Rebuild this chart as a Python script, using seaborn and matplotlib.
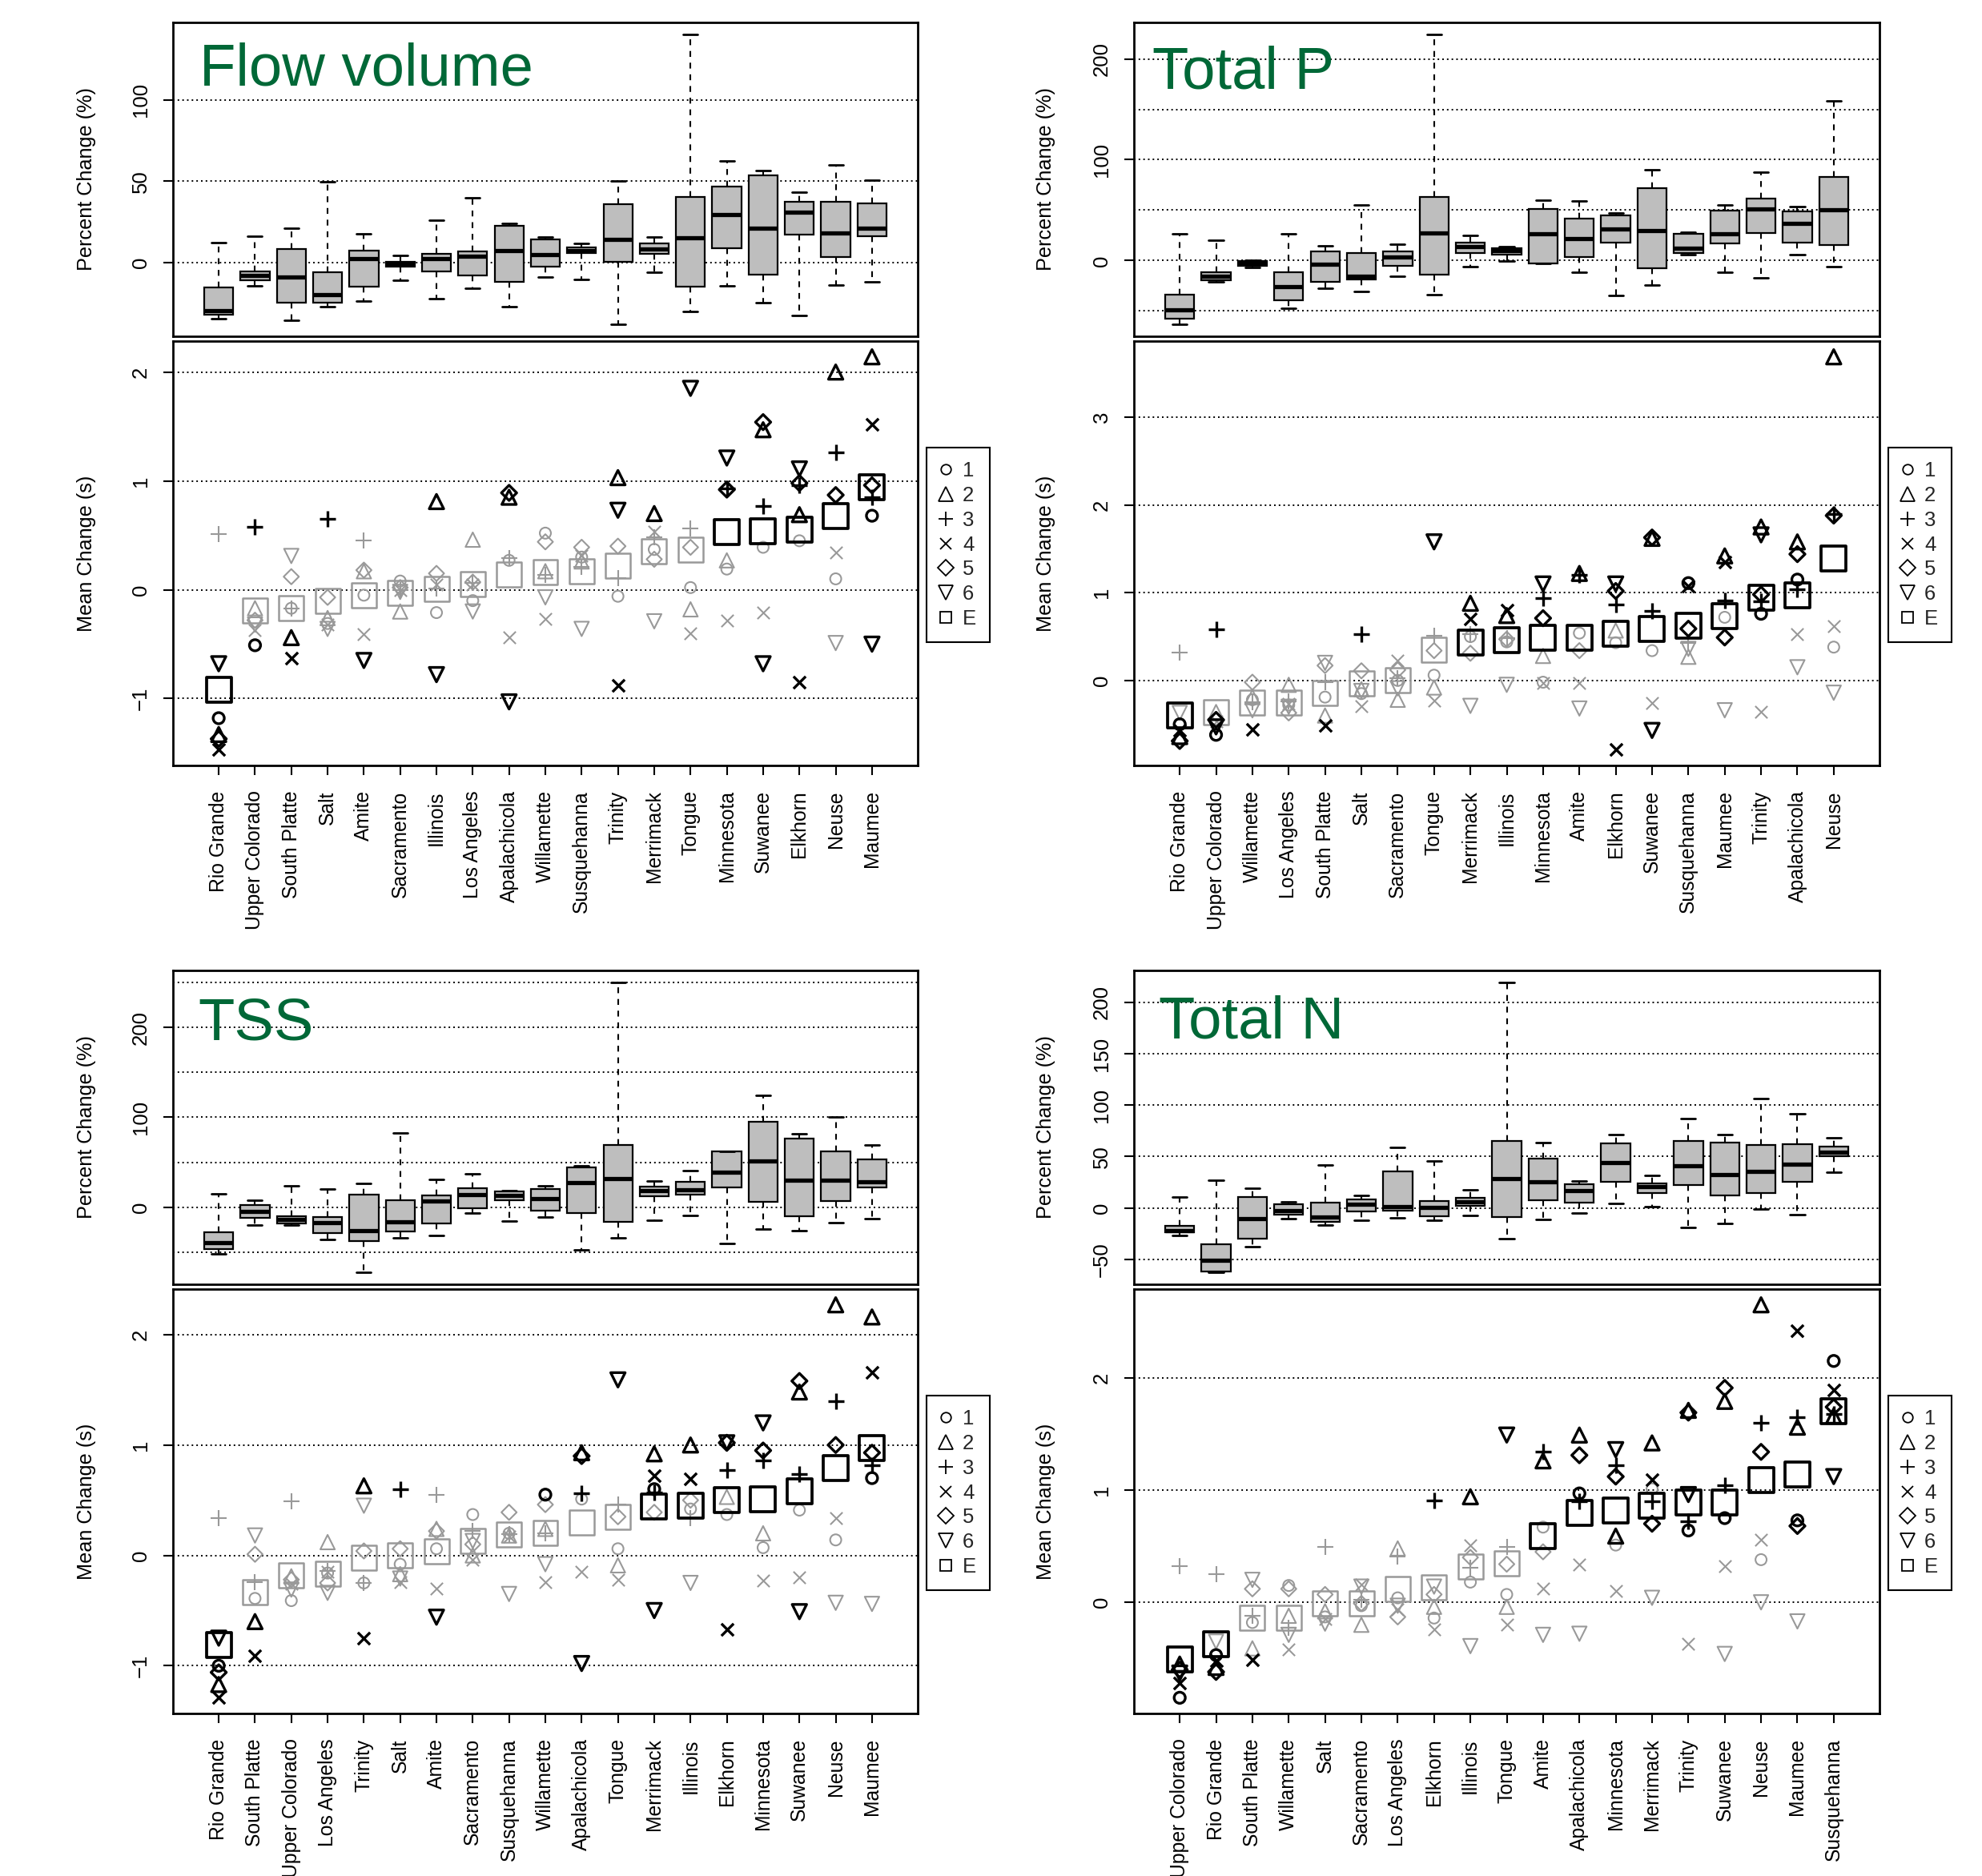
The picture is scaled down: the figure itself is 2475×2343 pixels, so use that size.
import numpy as np
import pandas as pd
import matplotlib
matplotlib.use("Agg")
import matplotlib.pyplot as plt
from matplotlib.lines import Line2D
import seaborn as sns

# ---------------------------------------------------------------- data
# ---- Flow volume
FLOW_SITES = ["Rio Grande", "Upper Colorado", "South Platte", "Salt", "Amite", "Sacramento",
              "Illinois", "Los Angeles", "Apalachicola", "Willamette", "Susquehanna", "Trinity",
              "Merrimack", "Tongue", "Minnesota", "Suwanee", "Elkhorn", "Neuse", "Maumee"]
FLOW_LO = [-34.5, -14.4, -35.6, -27.4, -23.6, -11.0, -22.3, -15.8, -27.4, -8.9, -10.3, -38.3, -6.2, -30.4, -14.4, -25.0, -32.5, -13.8, -11.8]
FLOW_Q1 = [-32.0, -11.0, -25.0, -25.0, -14.8, -2.5, -5.6, -7.9, -11.8, -2.8, 5.7, 0.3, 5.4, -14.8, 9.0, -7.4, 16.9, 3.3, 16.1]
FLOW_MED = [-29.9, -8.2, -9.0, -19.7, 2.3, -1.1, 2.3, 3.6, 7.4, 4.9, 7.4, 14.0, 8.5, 15.1, 29.7, 21.2, 31.0, 18.1, 21.2]
FLOW_Q3 = [-15.6, -5.3, 8.5, -5.9, 7.4, 0.2, 5.4, 6.7, 22.5, 14.0, 9.4, 36.0, 11.5, 40.4, 46.8, 53.4, 37.3, 37.3, 36.3]
FLOW_HI = [12.2, 16.4, 21.3, 49.6, 17.4, 4.4, 25.8, 39.7, 23.8, 15.9, 11.5, 50.2, 15.8, 140.6, 62.6, 56.7, 43.2, 59.8, 50.7]
FLOW_S1 = [-1.18, -0.51, -0.17, -0.31, -0.05, 0.08, -0.21, -0.10, 0.27, 0.52, 0.30, -0.06, 0.37, 0.02, 0.19, 0.39, 0.45, 0.10, 0.68]
FLOW_S2 = [-1.33, -0.17, -0.44, -0.26, 0.17, -0.20, 0.81, 0.46, 0.85, 0.17, 0.26, 1.03, 0.70, -0.18, 0.27, 1.47, 0.69, 2.00, 2.14]
FLOW_S3 = [0.51, 0.58, -0.17, 0.65, 0.45, 0.00, 0.01, 0.06, 0.29, 0.14, 0.21, 0.11, 0.48, 0.56, 0.93, 0.77, 0.96, 1.26, 0.85]
FLOW_S4 = [-1.47, -0.37, -0.63, -0.32, -0.41, 0.00, 0.05, 0.05, -0.44, -0.27, 0.31, -0.88, 0.53, -0.40, -0.28, -0.21, -0.85, 0.34, 1.52]
FLOW_S5 = [-1.37, -0.28, 0.12, -0.07, 0.18, 0.02, 0.15, 0.07, 0.89, 0.44, 0.39, 0.40, 0.28, 0.39, 0.92, 1.54, 0.98, 0.87, 0.96]
FLOW_S6 = [-0.68, -0.32, 0.31, -0.36, -0.65, -0.02, -0.78, -0.20, -1.03, -0.07, -0.36, 0.73, -0.29, 1.85, 1.21, -0.68, 1.11, -0.49, -0.50]
FLOW_SE = [-0.92, -0.19, -0.17, -0.10, -0.05, -0.03, 0.01, 0.05, 0.14, 0.16, 0.17, 0.22, 0.35, 0.37, 0.53, 0.54, 0.55, 0.68, 0.94]
# significance flags ("1" = black / significant, "0" = grey)
FLOW_SIG = ["1100000000000000001", "1010001010011001111", "0101000000000011111",
            "1010000000010000101", "1000000010000011111", "1000101010010111101",
            "1000000000000011111"]

# ---- Total P
TP_SITES = ["Rio Grande", "Upper Colorado", "Willamette", "Los Angeles", "South Platte", "Salt",
            "Sacramento", "Tongue", "Merrimack", "Illinois", "Minnesota", "Amite", "Elkhorn",
            "Suwanee", "Susquehanna", "Maumee", "Trinity", "Apalachicola", "Neuse"]
TP_LO = [-63.5, -21.4, -6.9, -47.6, -27.5, -30.7, -15.3, -33.6, -6.1, -0.8, -2.9, -11.9, -34.4, -24.3, 5.6, -11.9, -16.9, 5.6, -6.1]
TP_Q1 = [-57.4, -19.3, -5.0, -39.4, -20.9, -18.8, -5.3, -14.3, 7.9, 5.6, -2.9, 3.2, 18.0, -7.9, 7.9, 16.9, 27.0, 18.0, 15.6]
TP_MED = [-48.7, -15.1, -2.4, -26.2, -3.7, -15.6, 3.4, 27.5, 13.5, 9.8, 26.5, 22.0, 31.0, 29.9, 12.2, 26.2, 50.8, 36.8, 50.0]
TP_Q3 = [-34.1, -11.9, -0.3, -11.9, 9.5, 7.9, 9.0, 63.0, 17.5, 12.2, 51.1, 41.3, 45.0, 71.7, 26.7, 49.2, 61.6, 48.7, 83.3]
TP_HI = [26.7, 20.1, 0.0, 26.7, 14.8, 55.0, 15.9, 224.6, 25.1, 13.5, 60.3, 59.0, 47.6, 89.7, 28.0, 55.0, 87.8, 53.4, 158.2]
TP_S1 = [-0.50, -0.62, -0.22, -0.28, -0.19, -0.15, 0.00, 0.06, 0.50, 0.44, -0.02, 0.54, 0.43, 0.34, 1.11, 0.72, 0.76, 1.15, 0.38]
TP_S2 = [-0.64, -0.36, -0.19, -0.05, -0.40, -0.10, -0.22, -0.08, 0.88, 0.74, 0.28, 1.22, 0.57, 1.62, 0.27, 1.42, 1.75, 1.58, 3.69]
TP_S3 = [0.32, 0.58, -0.25, -0.24, -0.02, 0.53, 0.03, 0.51, 0.53, 0.48, 0.94, 1.20, 0.87, 0.79, 0.43, 0.91, 0.90, 1.04, 1.90]
TP_S4 = [-0.57, -0.47, -0.56, -0.27, -0.51, -0.29, 0.23, -0.23, 0.70, 0.80, -0.03, -0.03, -0.79, -0.26, 1.08, 1.35, -0.36, 0.53, 0.62]
TP_S5 = [-0.69, -0.45, -0.02, -0.37, 0.17, 0.11, 0.12, 0.34, 0.31, 0.47, 0.71, 0.34, 1.02, 1.63, 0.59, 0.49, 0.98, 1.44, 1.88]
TP_S6 = [-0.37, -0.53, -0.34, -0.30, 0.20, -0.12, -0.09, 1.58, -0.29, -0.05, 1.10, -0.32, 1.10, -0.57, 0.36, -0.34, 1.66, 0.15, -0.14]
TP_SE = [-0.40, -0.36, -0.25, -0.25, -0.14, -0.03, 0.00, 0.35, 0.43, 0.46, 0.49, 0.49, 0.53, 0.59, 0.62, 0.73, 0.94, 0.97, 1.39]
TP_SIG = ["1100000000000010110", "1000000011010101111", "0100010000111101111",
          "1010100011001011000", "1100000000101111111", "0100000100101100100",
          "1000000011111111111"]

# ---- TSS
TSS_SITES = ["Rio Grande", "South Platte", "Upper Colorado", "Los Angeles", "Trinity", "Salt",
             "Amite", "Sacramento", "Susquehanna", "Willamette", "Apalachicola", "Tongue",
             "Merrimack", "Illinois", "Elkhorn", "Minnesota", "Suwanee", "Neuse", "Maumee"]
TSS_LO = [-51.8, -19.6, -20.2, -35.7, -72.9, -34.2, -31.3, -6.5, -15.5, -10.7, -47.3, -34.2, -14.6, -9.5, -40.2, -24.1, -26.2, -17.6, -13.1]
TSS_Q1 = [-46.7, -11.6, -18.2, -28.9, -37.8, -27.4, -18.2, -1.5, 8.0, -3.6, -6.5, -16.1, 11.9, 14.3, 22.0, 5.7, -10.4, 7.1, 22.3]
TSS_MED = [-39.3, -4.8, -14.0, -17.3, -26.2, -16.1, 6.5, 14.0, 12.8, 9.2, 27.1, 31.5, 18.8, 19.0, 39.0, 51.2, 29.8, 29.8, 28.3]
TSS_Q3 = [-28.3, 2.4, -10.1, -11.0, 13.7, 7.7, 12.8, 21.1, 17.9, 20.2, 44.6, 69.6, 23.2, 28.6, 61.9, 94.9, 76.8, 62.5, 53.6]
TSS_HI = [14.9, 7.7, 23.5, 20.2, 26.5, 83.0, 31.0, 37.2, 18.8, 24.1, 46.4, 250.6, 29.2, 40.8, 62.5, 124.4, 81.8, 100.6, 69.6]
TSS_S1 = [-1.00, -0.39, -0.41, -0.16, -0.25, -0.08, 0.06, 0.37, 0.20, 0.55, 0.51, 0.06, 0.60, 0.42, 0.37, 0.07, 0.41, 0.14, 0.70]
TSS_S2 = [-1.17, -0.60, -0.19, 0.12, 0.63, -0.17, 0.24, 0.00, 0.18, 0.24, 0.93, -0.09, 0.92, 1.00, 0.53, 0.20, 1.48, 2.27, 2.16]
TSS_S3 = [0.34, -0.24, 0.49, -0.14, -0.25, 0.60, 0.55, 0.22, 0.19, 0.20, 0.56, 0.46, 0.57, 0.34, 0.77, 0.86, 0.74, 1.40, 0.82]
TSS_S4 = [-1.29, -0.91, -0.26, -0.15, -0.75, -0.24, -0.30, -0.04, 0.17, -0.24, -0.15, -0.22, 0.72, 0.69, -0.67, -0.23, -0.20, 0.34, 1.66]
TSS_S5 = [-1.06, 0.01, -0.22, -0.25, 0.04, 0.06, 0.22, 0.10, 0.39, 0.46, 0.90, 0.35, 0.39, 0.50, 1.02, 0.95, 1.58, 1.00, 0.93]
TSS_S6 = [-0.75, 0.18, -0.31, -0.34, 0.45, -0.21, -0.56, 0.13, -0.35, -0.08, -0.98, 1.59, -0.50, -0.25, 1.02, 1.20, -0.51, -0.43, -0.44]
TSS_SE = [-0.81, -0.33, -0.18, -0.17, -0.02, 0.00, 0.04, 0.13, 0.19, 0.20, 0.30, 0.35, 0.44, 0.45, 0.50, 0.51, 0.58, 0.79, 0.97]
TSS_SIG = ["1000000001001000001", "1100100000101100111", "0000010000101011111",
           "1100100000001110001", "1000000000100011111", "1000001000111011100",
           "1000000000001111111"]

# ---- Total N
TN_SITES = ["Upper Colorado", "Rio Grande", "South Platte", "Willamette", "Salt", "Sacramento",
            "Los Angeles", "Elkhorn", "Illinois", "Tongue", "Amite", "Apalachicola", "Minnesota",
            "Merrimack", "Trinity", "Suwanee", "Neuse", "Maumee", "Susquehanna"]
TN_LO = [-27.1, -63.0, -37.5, -10.7, -16.4, -12.2, -9.9, -12.2, -7.6, -29.7, -11.5, -4.7, 4.7, 1.0, -19.3, -15.4, -0.8, -6.3, 34.6]
TN_Q1 = [-24.0, -62.0, -29.7, -6.3, -13.5, -3.1, -2.9, -7.8, 2.3, -8.9, 7.6, 5.5, 25.8, 14.6, 22.4, 12.0, 14.3, 25.3, 50.0]
TN_MED = [-21.9, -51.0, -10.2, -2.3, -8.6, 3.9, 1.6, 0.8, 6.0, 28.4, 25.5, 16.7, 44.3, 20.6, 41.1, 32.3, 35.2, 42.7, 54.4]
TN_Q3 = [-17.4, -35.7, 10.7, 3.6, 5.2, 8.3, 35.4, 7.0, 9.9, 65.4, 48.4, 23.2, 62.8, 23.7, 64.8, 63.5, 60.9, 61.7, 59.4]
TN_HI = [10.7, 26.6, 19.3, 5.7, 41.7, 12.2, 58.6, 45.6, 18.0, 219.8, 63.8, 26.3, 71.1, 32.0, 87.0, 71.1, 106.5, 91.4, 68.5]
TN_S1 = [-0.85, -0.47, -0.18, 0.15, -0.13, -0.03, 0.04, -0.14, 0.18, 0.07, 0.67, 0.97, 0.51, 1.01, 0.64, 0.75, 0.38, 0.73, 2.15]
TN_S2 = [-0.55, -0.58, -0.41, -0.12, -0.08, -0.20, 0.48, -0.04, 0.94, -0.04, 1.26, 1.49, 0.59, 1.42, 1.71, 1.79, 2.65, 1.56, 1.66]
TN_S3 = [0.32, 0.25, -0.12, -0.23, 0.49, 0.02, 0.41, 0.91, 0.31, 0.49, 1.34, 0.90, 1.22, 0.90, 0.72, 1.04, 1.60, 1.65, 1.68]
TN_S4 = [-0.72, -0.52, -0.51, -0.42, -0.15, 0.16, -0.06, -0.24, 0.51, -0.20, 0.12, 0.34, 0.10, 1.09, -0.37, 0.32, 0.56, 2.42, 1.89]
TN_S5 = [-0.60, -0.62, 0.12, 0.12, 0.07, -0.01, -0.13, 0.07, 0.40, 0.34, 0.45, 1.31, 1.12, 0.70, 1.69, 1.91, 1.34, 0.68, 1.74]
TN_S6 = [-0.63, -0.35, 0.20, -0.29, -0.19, 0.14, -0.03, 0.14, -0.39, 1.49, -0.29, -0.28, 1.36, 0.04, 0.96, -0.46, 0.00, -0.17, 1.12]
TN_SE = [-0.51, -0.37, -0.14, -0.14, -0.01, -0.01, 0.12, 0.13, 0.32, 0.35, 0.59, 0.80, 0.82, 0.86, 0.89, 0.89, 1.09, 1.14, 1.70]
TN_SIG = ["1100000000010011011", "1100000010111111111", "0000000100111111111",
          "1110000000000100011", "1100000000011111111", "1000000001001010001",
          "1100000000111111111"]

SERIES_LABELS = ["1", "2", "3", "4", "5", "6", "E"]
TITLES = ["Flow volume", "Total P", "TSS", "Total N"]

# ---------------------------------------------------------------- style
sns.set_theme(style="ticks")
plt.rcParams["font.family"] = ["Liberation Sans", "DejaVu Sans"]
plt.rcParams["axes.unicode_minus"] = True

BLACK = "#000000"
GREY = "#999999"
BOX_FILL = "#BEBEBE"
GREEN = "#006837"
MARKERS = ["o", "^", "+", "x", "D", "v", "s"]
MS = {"o": 10, "^": 13, "+": 15, "x": 11, "D": 9.7, "v": 13, "s": 22.3}
LEG_MS = {"o": 9, "^": 12.5, "+": 13.5, "x": 10.5, "D": 9.8, "v": 12.5, "s": 10}

W_PX, H_PX = 2475, 2343
fig = plt.figure(figsize=(W_PX / 100, H_PX / 100), dpi=100)

TICK_FS = 18.5
XTICK_FS = 17.8
LABEL_FS = 18.2


def rect(x0, y0, x1, y1):
    return [x0 / W_PX, 1 - y1 / H_PX, (x1 - x0) / W_PX, (y1 - y0) / H_PX]


def pad_range(vals):
    lo, hi = min(vals), max(vals)
    d = (hi - lo) * 0.04
    return lo - d, hi + d


def fmt(v):
    s = f"{v:g}"
    return s.replace("-", "\u2212")


def style_axes(ax):
    for sp in ax.spines.values():
        sp.set_visible(True)
        sp.set_color("black")
        sp.set_linewidth(2.0)
    ax.tick_params(axis="both", direction="out", length=8.5, width=1.5,
                   color="black", labelcolor="black")


def draw_panel(x0, x1, ytop, title, title_xy, sites, lo, q1, med, q3, hi,
               series, sigs, box_grid, box_ticks, scat_ticks, label_x):
    n = len(sites)
    # --------------------------------------------- boxplot (percent change)
    axb = fig.add_axes(rect(x0, ytop, x1, ytop + 392))
    rows = []
    for s, a, b, c, d, e in zip(sites, lo, q1, med, q3, hi):
        for v in (a, b, c, d, e):
            rows.append((s, v))
    df = pd.DataFrame(rows, columns=["site", "value"])
    for g in box_grid:
        axb.axhline(g, color="black", lw=1.4, ls=(0, (1, 2)), zorder=0.5)
    sns.boxplot(data=df, x="site", y="value", order=sites, ax=axb, whis=np.inf,
                width=0.8, color=BOX_FILL, saturation=1, linecolor="black",
                linewidth=1.6, fliersize=0,
                medianprops=dict(linewidth=3.8, solid_capstyle="butt"),
                whiskerprops=dict(linestyle=(0, (3.5, 3.5)), linewidth=1.5),
                capprops=dict(linewidth=2.0))
    axb.set_xlim(-1.26, n - 1 + 1.26)
    axb.set_xticks([])
    axb.set_xlabel("")
    axb.set_ylim(*pad_range(list(lo) + list(hi)))
    axb.set_yticks(box_ticks)
    axb.set_yticklabels([fmt(t) for t in box_ticks])
    style_axes(axb)
    axb.tick_params(axis="y", labelsize=TICK_FS, pad=12)
    for lab in axb.get_yticklabels():
        lab.set_rotation(90)
        lab.set_va("center")
    axb.set_ylabel("Percent Change (%)", fontsize=LABEL_FS, color="black")
    axb.yaxis.set_label_coords(label_x, 0.5)
    axb.text(title_xy[0], title_xy[1], title, transform=axb.transAxes,
             fontsize=53.5, color=GREEN, va="baseline", ha="left")

    # --------------------------------------------- scatter (mean change)
    sy0 = ytop + 398
    axs = fig.add_axes(rect(x0, sy0, x1, sy0 + 530))
    pos = np.arange(n)
    allv = [v for ser in series for v in ser]
    ylo, yhi = pad_range(allv)
    for g in range(int(np.ceil(ylo)), int(np.floor(yhi)) + 1):
        axs.axhline(g, color="black", lw=1.4, ls=(0, (1, 2)), zorder=0.5)
    for flag, col, lw in (("0", GREY, 1.5), ("1", BLACK, 2.4)):
        for m, vals, sig in zip(MARKERS, series, sigs):
            sel = [i for i, c in enumerate(sig) if c == flag]
            if not sel:
                continue
            sub = pd.DataFrame({"pos": pos[sel], "val": np.asarray(vals)[sel]})
            kw = dict(marker=m, s=MS[m] ** 2, linewidth=lw + (0.3 if m == "s" else 0), zorder=3)
            if m in ("+", "x"):
                kw["color"] = col
            else:
                kw.update(facecolor="none", edgecolor=col)
            sns.scatterplot(data=sub, x="pos", y="val", ax=axs, legend=False, **kw)
    axs.set_xlim(-1.26, n - 1 + 1.26)
    axs.set_ylim(ylo, yhi)
    axs.set_xticks(pos)
    axs.set_xticklabels(sites, rotation=90)
    axs.set_yticks(scat_ticks)
    axs.set_yticklabels([fmt(t) for t in scat_ticks])
    style_axes(axs)
    axs.tick_params(axis="x", labelsize=XTICK_FS, pad=14)
    axs.tick_params(axis="y", labelsize=TICK_FS, pad=12)
    for lab in axs.get_yticklabels():
        lab.set_rotation(90)
        lab.set_va("center")
    axs.set_xlabel("")
    axs.set_ylabel("Mean Change (s)", fontsize=LABEL_FS, color="black")
    axs.yaxis.set_label_coords(label_x, 0.5)

    handles = [Line2D([], [], ls="none", marker=m, ms=LEG_MS[m], mfc="none",
                      mec="black", mew=1.3, color="black") for m in MARKERS]
    leg = axs.legend(handles, SERIES_LABELS, loc="upper left",
                     bbox_to_anchor=(1.012, 0.749), borderaxespad=0, frameon=True,
                     fancybox=False, edgecolor="black", framealpha=1, fontsize=18.5,
                     handlelength=0.55, handletextpad=0.55, borderpad=0.65,
                     labelspacing=0.27)
    leg.get_frame().set_linewidth(1.5)


draw_panel(216, 1146, 28, TITLES[0], (0.035, 0.80), FLOW_SITES,
           FLOW_LO, FLOW_Q1, FLOW_MED, FLOW_Q3, FLOW_HI,
           [FLOW_S1, FLOW_S2, FLOW_S3, FLOW_S4, FLOW_S5, FLOW_S6, FLOW_SE], FLOW_SIG,
           [0, 50, 100], [0, 50, 100], [-1, 0, 1, 2], -0.103)

draw_panel(1416, 2347, 28, TITLES[1], (0.025, 0.79), TP_SITES,
           TP_LO, TP_Q1, TP_MED, TP_Q3, TP_HI,
           [TP_S1, TP_S2, TP_S3, TP_S4, TP_S5, TP_S6, TP_SE], TP_SIG,
           [-50, 0, 50, 100, 150, 200], [0, 100, 200], [0, 1, 2, 3], -0.105)

draw_panel(216, 1146, 1212, TITLES[2], (0.034, 0.78), TSS_SITES,
           TSS_LO, TSS_Q1, TSS_MED, TSS_Q3, TSS_HI,
           [TSS_S1, TSS_S2, TSS_S3, TSS_S4, TSS_S5, TSS_S6, TSS_SE], TSS_SIG,
           [-50, 0, 50, 100, 150, 200, 250], [0, 100, 200], [-1, 0, 1, 2], -0.103)

draw_panel(1416, 2347, 1212, TITLES[3], (0.033, 0.785), TN_SITES,
           TN_LO, TN_Q1, TN_MED, TN_Q3, TN_HI,
           [TN_S1, TN_S2, TN_S3, TN_S4, TN_S5, TN_S6, TN_SE], TN_SIG,
           [-50, 0, 50, 100, 150, 200], [-50, 0, 50, 100, 150, 200], [0, 1, 2], -0.105)

fig.savefig("out.png", dpi=100)
